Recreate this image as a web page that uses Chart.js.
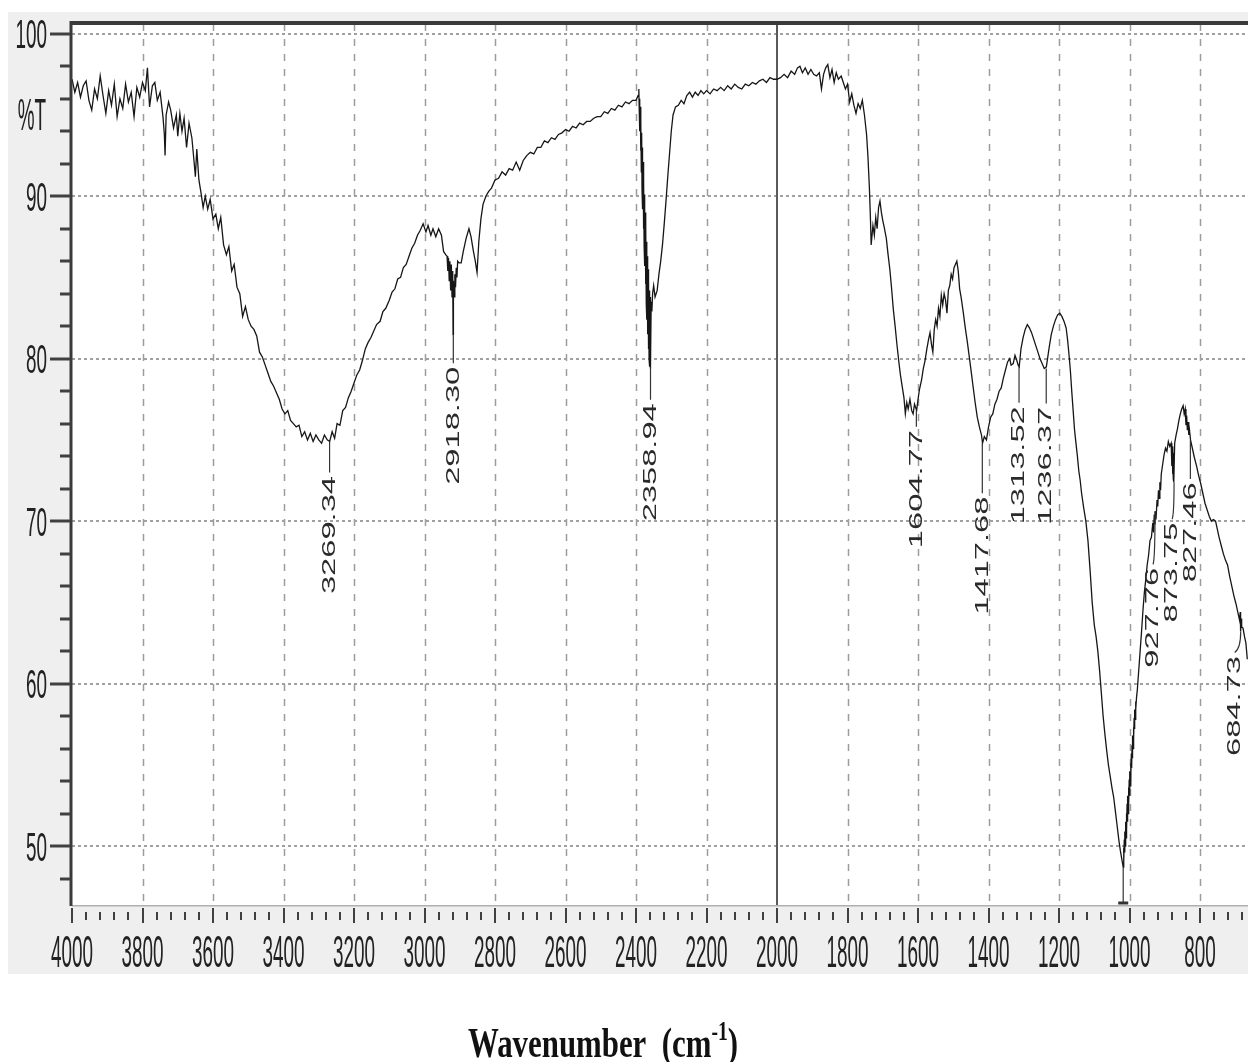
<!DOCTYPE html>
<html>
<head>
<meta charset="utf-8">
<script src="https://cdn.jsdelivr.net/npm/chart.js@4.4.1/dist/chart.umd.min.js"></script>
<style>
html,body{margin:0;padding:0;background:#fff;}
canvas{display:block;}
</style>
</head>
<body>
<canvas id="c" width="1248" height="1062"></canvas>
<script>
// ---------------- DATA ----------------
const wavenumbers = [
4000,3992,3984,3976,3968,3960,3952,3944,3936,3928,3920,3912,3904,3896,3888,3880,3872,3864,3856,3848,3840,3832,3824,3816,3808,3800,3792,3786,3780,3772,3765,3758,3750,3742,3738,3736,3733,3726,3720,3712,3704,3700,3694,3688,3682,3675,3668,3660,3654,3650,3646,3640,3634,3628,3622,3615,3608,3600,3592,3585,3578,3570,3562,3555,3547,3540,3532,3524,3516,3508,3500,3492,3484,3476,3468,3460,3452,3444,3436,3428,3420,3412,3404,3396,3388,3380,3372,3364,3356,3348,3340,3332,3324,3316,3308,3300,3292,3284,3276,3269,3262,3255,3248,3240,3232,3224,3216,3208,3200,3192,3184,3176,3168,3160,3152,3144,3136,3126,3118,3110,3100,3092,3084,3076,3068,3060,3052,3044,3036,3028,3020,3012,3004,2996,2990,2982,2976,2968,2960,2952,2946,2940,2936,2934,2932,2930,2928,2926,2924,2922,2920,2919,2918,2916,2914,2912,2910,2908,2906,2902,2896,2890,2882,2874,2868,2862,2856,2851,2846,2840,2834,2826,2818,2810,2800,2790,2780,2770,2760,2750,2740,2730,2720,2710,2700,2690,2680,2670,2660,2650,2640,2630,2620,2610,2600,2590,2580,2570,2560,2550,2540,2530,2520,2510,2500,2490,2480,2470,2460,2450,2440,2430,2420,2410,2400,2394,2392,2391,2390,2389,2388,2387,2386,2385,2384,2383,2382,2381,2380,2379,2378,2377,2376,2375,2374,2373,2372,2371,2370,2369,2368,2367,2366,2365,2364,2363,2362,2361,2360,2359,2357,2355,2353,2350,2346,2340,2335,2330,2325,2320,2315,2310,2305,2300,2295,2288,2280,2272,2264,2256,2248,2240,2232,2224,2216,2208,2200,2190,2180,2170,2160,2150,2140,2130,2120,2110,2100,2090,2080,2070,2060,2050,2040,2030,2020,2010,2000,1990,1980,1970,1960,1950,1942,1935,1928,1920,1912,1904,1896,1888,1880,1874,1868,1862,1856,1850,1844,1838,1832,1826,1818,1812,1806,1800,1794,1788,1782,1776,1770,1764,1758,1752,1746,1742,1738,1735,1733,1728,1724,1720,1716,1712,1708,1704,1700,1696,1690,1685,1680,1675,1670,1665,1660,1655,1650,1645,1640,1636,1632,1628,1623,1618,1614,1610,1604,1600,1596,1590,1585,1580,1575,1570,1566,1562,1558,1554,1550,1546,1542,1538,1534,1530,1526,1522,1518,1514,1510,1506,1502,1498,1494,1490,1486,1482,1478,1472,1466,1460,1454,1448,1444,1438,1432,1426,1420,1417,1412,1406,1400,1394,1388,1382,1376,1370,1364,1358,1352,1346,1340,1336,1330,1325,1320,1316,1313,1308,1302,1296,1290,1284,1278,1272,1266,1260,1254,1248,1242,1236,1232,1228,1222,1216,1210,1204,1198,1192,1186,1180,1176,1172,1168,1164,1160,1156,1152,1148,1144,1140,1136,1130,1124,1118,1112,1106,1100,1095,1090,1085,1080,1075,1070,1065,1060,1055,1050,1045,1040,1035,1030,1026,1022,1018,1017,1016,1015,1014,1013,1012,1011,1010,1009,1008,1007,1006,1005,1004,1003,1002,1001,1000,999,998,997,996,995,994,993,992,991,990,989,988,987,986,985,984,983,982,980,978,976,973,970,966,962,958,954,950,946,942,938,934,932,930,928,927,925,922,920,918,916,914,912,910,906,902,898,894,890,886,882,880,879,878,877,876,875,874,872,868,864,860,856,852,848,845,842,840,838,836,834,832,830,827,822,816,810,804,798,792,786,780,774,768,762,756,752,746,740,734,728,722,716,710,704,698,692,688,686,685,683,682,678,674,670,666
];
const transmittance = [
97.2,96.4,97.0,96.1,96.8,97.1,95.9,95.3,96.6,96.0,97.4,96.2,95.1,96.5,95.6,96.9,94.9,96.0,95.4,96.9,95.8,96.4,94.9,96.7,96.1,97.0,96.5,97.9,95.5,96.8,97.0,95.9,96.4,94.9,93.8,92.5,95.0,95.8,95.3,94.2,95.0,93.7,95.1,94.0,94.8,93.0,94.5,93.6,92.2,91.2,92.9,91.0,90.2,89.3,90.0,89.2,89.8,88.6,88.9,88.0,88.7,87.0,86.4,86.9,85.4,85.8,84.4,84.0,82.6,83.2,82.4,82.0,81.8,81.4,80.4,80.1,79.6,79.1,78.6,78.3,77.9,77.5,76.9,76.6,76.8,76.2,76.0,75.8,75.9,75.2,75.5,75.0,75.4,74.9,75.3,75.0,74.8,75.3,75.0,74.9,75.5,75.1,76.0,75.9,76.8,77.0,77.6,78.0,78.5,79.0,79.3,79.9,80.6,81.0,81.3,81.7,82.1,82.3,82.9,83.1,83.6,84.1,84.3,84.9,85.0,85.6,85.8,86.3,86.8,87.1,87.6,87.9,88.3,87.8,88.2,87.6,88.0,87.5,88.0,87.6,86.6,86.4,86.3,85.4,86.2,84.8,86.0,84.2,85.8,83.8,85.4,81.5,84.8,83.8,85.2,84.4,85.6,85.0,86.0,85.9,85.9,86.6,87.4,88.0,87.5,86.7,86.0,85.3,87.2,88.6,89.5,90.0,90.3,90.5,91.0,91.1,91.5,91.3,91.7,91.6,92.1,91.6,92.2,92.5,92.7,92.6,93.0,93.0,93.4,93.3,93.6,93.5,93.8,93.9,94.1,94.0,94.3,94.2,94.5,94.4,94.6,94.6,94.8,94.9,94.9,95.2,95.1,95.4,95.3,95.6,95.5,95.8,95.7,95.9,95.9,96.2,96.6,95.4,96.0,94.0,95.5,92.8,94.6,91.5,93.9,90.4,93.0,89.2,92.1,88.0,91.0,86.9,90.1,85.7,89.0,84.6,88.2,83.4,87.2,82.4,86.3,81.5,85.5,80.6,84.8,80.0,84.2,79.5,83.8,79.4,83.5,82.9,84.0,84.5,83.8,84.2,85.2,86.0,87.0,88.3,89.7,91.2,92.6,94.0,95.0,95.5,95.6,95.9,95.7,96.2,96.4,96.1,96.4,96.2,96.5,96.3,96.5,96.3,96.6,96.5,96.7,96.5,96.8,96.6,96.9,96.7,96.6,96.9,96.8,97.0,96.9,97.1,97.2,97.0,97.3,97.2,97.2,97.3,97.5,97.3,97.7,97.5,97.9,98.0,97.6,97.9,97.5,97.8,97.5,97.4,97.6,96.6,97.5,97.9,98.1,97.3,97.8,97.0,97.6,97.2,97.4,97.0,96.6,96.9,95.8,96.3,95.6,95.1,95.7,95.4,95.9,95.0,93.8,92.4,90.5,88.6,87.0,88.2,87.6,88.7,88.0,89.3,89.7,89.0,88.5,88.1,87.4,86.4,85.5,84.3,83.0,82.0,80.9,79.9,79.0,78.3,77.6,76.6,77.3,76.9,77.5,76.8,76.6,77.2,76.8,77.5,78.1,78.7,79.4,79.9,80.6,81.2,81.6,80.9,80.4,81.8,82.4,82.0,83.1,82.6,83.9,83.3,84.0,83.6,82.8,84.2,84.5,85.2,84.9,85.6,85.8,86.0,85.4,84.3,83.8,82.9,81.9,81.0,80.0,79.0,78.3,77.3,76.4,75.8,75.3,74.8,75.2,75.0,75.8,76.4,76.6,77.2,77.5,78.0,78.2,78.8,79.3,79.8,80.0,79.6,79.7,80.2,79.9,79.6,79.5,80.6,81.3,81.8,82.1,81.9,81.6,81.2,80.8,80.4,80.0,79.7,79.4,79.5,80.1,80.7,81.5,82.0,82.4,82.7,82.8,82.6,82.3,81.9,81.2,80.3,79.3,78.0,76.8,75.6,74.8,74.0,73.1,72.5,71.7,70.8,70.0,68.8,67.0,65.0,63.6,62.9,62.0,60.8,59.4,58.0,56.9,55.9,55.0,54.3,53.6,53.0,52.1,51.2,50.3,49.7,49.2,48.7,49.9,49.1,50.4,49.6,50.9,50.0,51.5,50.5,52.0,51.0,52.6,51.5,53.1,52.0,53.6,52.6,54.1,53.1,54.6,53.7,55.1,54.2,55.7,54.8,56.2,55.4,56.8,56.0,57.3,56.6,57.9,57.2,58.4,57.8,58.9,58.4,59.2,59.6,60.2,61.1,62.0,63.2,64.5,65.6,66.4,67.3,67.9,68.8,69.0,69.9,69.3,70.4,69.8,70.6,70.1,71.3,70.9,71.9,71.4,72.4,71.9,72.9,73.5,74.1,74.5,74.3,74.9,74.6,74.8,73.4,74.6,72.9,74.4,72.6,74.2,72.4,74.8,75.3,75.7,76.2,76.6,76.9,77.1,76.6,76.9,75.9,76.5,75.6,76.1,75.3,75.6,75.0,74.5,73.9,73.4,72.8,72.3,71.7,71.1,70.7,70.3,70.0,70.1,70.0,69.6,69.0,68.5,68.0,67.6,67.3,66.6,66.0,65.4,64.9,64.3,63.9,64.4,63.2,64.0,63.5,63.4,62.9,62.5,61.5
];
const xTickLabels = [4000,3800,3600,3400,3200,3000,2800,2600,2400,2200,2000,1800,1600,1400,1200,1000,800];
const yTickLabels = [100,90,80,70,60,50];
const yAxisTitle = '%T';
const yAxisTitleAt = 95;
const xAxisTitle = 'Wavenumber  (cm';
const xAxisTitleSup = '-1';
const peakWavenumbers = [3269.34,2918.30,2358.94,1604.77,1417.68,1313.52,1236.37,927.76,873.75,827.46,684.73];
const peakTransmittance = [74.9,81.5,79.5,76.8,74.8,79.5,79.4,70.6,72.4,75.0,63.2];
const peakLabels = ['3269.34','2918.30','2358.94','1604.77','1417.68','1313.52','1236.37','927.76','873.75','827.46','684.73'];
const minimumMark = {x: 1018, y: 48.7};

// ---------------- STYLE ----------------
const leaderLengths = [31,29,33,16,50,36,35,53,37,39,21];
const labelShifts   = [0,0,0,0,0,0,0,-2,-2,0,-6];
const X_MIN = 664, X_MAX = 4000, Y_MIN = 46.37, Y_MAX = 100.6;

function line(ctx,x1,y1,x2,y2){ctx.beginPath();ctx.moveTo(x1,y1);ctx.lineTo(x2,y2);ctx.stroke();}

const framePlugin = {
  id:'frame',
  beforeDraw(chart){
    const {ctx, chartArea:a} = chart;
    const xs = chart.scales.x, ys = chart.scales.y;
    ctx.save();
    ctx.fillStyle='#ffffff'; ctx.fillRect(0,0,chart.width,chart.height);
    ctx.fillStyle='#efefef'; ctx.fillRect(8,12,chart.width-8,962);
    ctx.fillStyle='#ffffff'; ctx.fillRect(a.left,a.top,a.right-a.left,a.bottom-a.top);
    ctx.strokeStyle='#9c9c9c'; ctx.lineWidth=1.5; ctx.setLineDash([7,8]);
    xTickLabels.forEach(v=>{
      if(v===4000||v===2000) return;
      const px=Math.round(xs.getPixelForValue(v))+0.5;
      line(ctx,px,a.top,px,a.bottom);
    });
    ctx.strokeStyle='#a0a0a0'; ctx.lineWidth=2; ctx.setLineDash([3,3]);
    yTickLabels.forEach(v=>{
      const py=Math.round(ys.getPixelForValue(v));
      line(ctx,a.left,py,a.right,py);
    });
    ctx.setLineDash([]);
    ctx.strokeStyle='#5a5a5a'; ctx.lineWidth=2;
    const p2=Math.round(xs.getPixelForValue(2000));
    line(ctx,p2,a.top,p2,a.bottom);
    ctx.restore();
  },
  afterDatasetsDraw(chart){
    const {ctx, chartArea:a} = chart;
    const xs = chart.scales.x, ys = chart.scales.y;
    ctx.save();
    ctx.strokeStyle='#b0b0b0'; ctx.lineWidth=1.5;
    line(ctx,a.left,a.bottom+0.75,a.right,a.bottom+0.75);
    ctx.strokeStyle='#3a3a3a'; ctx.lineWidth=4;
    line(ctx,a.left-1,a.top-1,a.right,a.top-1);
    ctx.lineWidth=3;
    line(ctx,a.left-1,a.top-3,a.left-1,a.bottom+1);
    ctx.strokeStyle='#404040'; ctx.lineWidth=3;
    for(let v=48; v<=100; v+=2){
      const py=Math.round(ys.getPixelForValue(v));
      const major = yTickLabels.includes(v);
      line(ctx, major?50:60, py, a.left-1, py);
    }
    ctx.lineWidth=2;
    for(let v=4000; v>=X_MIN; v-=40){
      const px=Math.round(xs.getPixelForValue(v));
      const major = xTickLabels.includes(v);
      if(major) line(ctx,px,a.bottom+3,px,a.bottom+18);
      else line(ctx,px,a.bottom+7,px,a.bottom+15);
    }
    ctx.fillStyle='#222';
    ctx.font='20px "Liberation Sans", Arial, sans-serif';
    const sx = 42/ctx.measureText('4000').width;
    ctx.textAlign='center'; ctx.textBaseline='alphabetic';
    xTickLabels.forEach(v=>{
      const px=xs.getPixelForValue(v);
      ctx.save(); ctx.translate(px,967); ctx.scale(sx,2.2); ctx.fillText(String(v),0,0); ctx.restore();
    });
    ctx.textAlign='right';
    yTickLabels.forEach(v=>{
      const py=ys.getPixelForValue(v);
      ctx.save(); ctx.translate(47,py+14.5); ctx.scale(sx,2.05); ctx.fillText(String(v),0,0); ctx.restore();
    });
    {
      const py=ys.getPixelForValue(yAxisTitleAt);
      ctx.save(); ctx.translate(46,py+15.5); ctx.scale(sx,2.2); ctx.fillText(yAxisTitle,0,0); ctx.restore();
    }
    ctx.strokeStyle='#333'; ctx.lineWidth=1.2; ctx.fillStyle='#2a2a2a';
    ctx.font='19px "Liberation Sans", Arial, sans-serif';
    peakWavenumbers.forEach((w,i)=>{
      const px=xs.getPixelForValue(w), py=ys.getPixelForValue(peakTransmittance[i]);
      const top=py+leaderLengths[i];
      const lx=px+labelShifts[i];
      ctx.beginPath();
      ctx.moveTo(px,py);
      if(labelShifts[i]!==0){ ctx.quadraticCurveTo(px,top-4,lx,top); }
      else ctx.lineTo(lx,top);
      ctx.stroke();
      ctx.save();
      ctx.translate(lx,top);
      ctx.rotate(-Math.PI/2);
      ctx.scale(1.72,1);
      ctx.textAlign='right'; ctx.textBaseline='middle';
      ctx.fillText(peakLabels[i],-2,0);
      ctx.restore();
    });
    {
      const px=xs.getPixelForValue(minimumMark.x), py=ys.getPixelForValue(minimumMark.y);
      line(ctx,px,py,px,a.bottom-2);
      ctx.lineWidth=3; line(ctx,px-5,a.bottom-2,px+5,a.bottom-2);
    }
    ctx.restore();

    ctx.save();
    ctx.fillStyle='#111';
    ctx.font='bold 30px "Liberation Serif", "Times New Roman", serif';
    const mainW = ctx.measureText(xAxisTitle).width;
    ctx.font='bold 19px "Liberation Serif", "Times New Roman", serif';
    const supW = ctx.measureText(xAxisTitleSup).width;
    ctx.font='bold 30px "Liberation Serif", "Times New Roman", serif';
    const closeW = ctx.measureText(')').width;
    const total = mainW+supW+closeW;
    const tsx = 270/total;
    ctx.translate(468,1057); ctx.scale(tsx,1.4);
    ctx.textAlign='left'; ctx.textBaseline='alphabetic';
    ctx.fillText(xAxisTitle,0,0);
    ctx.font='bold 19px "Liberation Serif", "Times New Roman", serif';
    ctx.fillText(xAxisTitleSup,mainW,-12);
    ctx.font='bold 30px "Liberation Serif", "Times New Roman", serif';
    ctx.fillText(')',mainW+supW,0);
    ctx.restore();
  }
};

new Chart(document.getElementById('c').getContext('2d'), {
  type:'line',
  data:{
    datasets:[{
      data: wavenumbers.map((w,i)=>({x:w, y:transmittance[i]})),
      borderColor:'#161616', borderWidth:1.3, pointRadius:0, tension:0, fill:false
    }]
  },
  options:{
    responsive:false, animation:false, devicePixelRatio:1,
    layout:{padding:{left:72,right:0,top:24,bottom:157}},
    plugins:{legend:{display:false}, tooltip:{enabled:false}},
    scales:{
      x:{type:'linear', reverse:true, min:X_MIN, max:X_MAX, display:false},
      y:{type:'linear', min:Y_MIN, max:Y_MAX, display:false}
    }
  },
  plugins:[framePlugin]
});
</script>
</body>
</html>
